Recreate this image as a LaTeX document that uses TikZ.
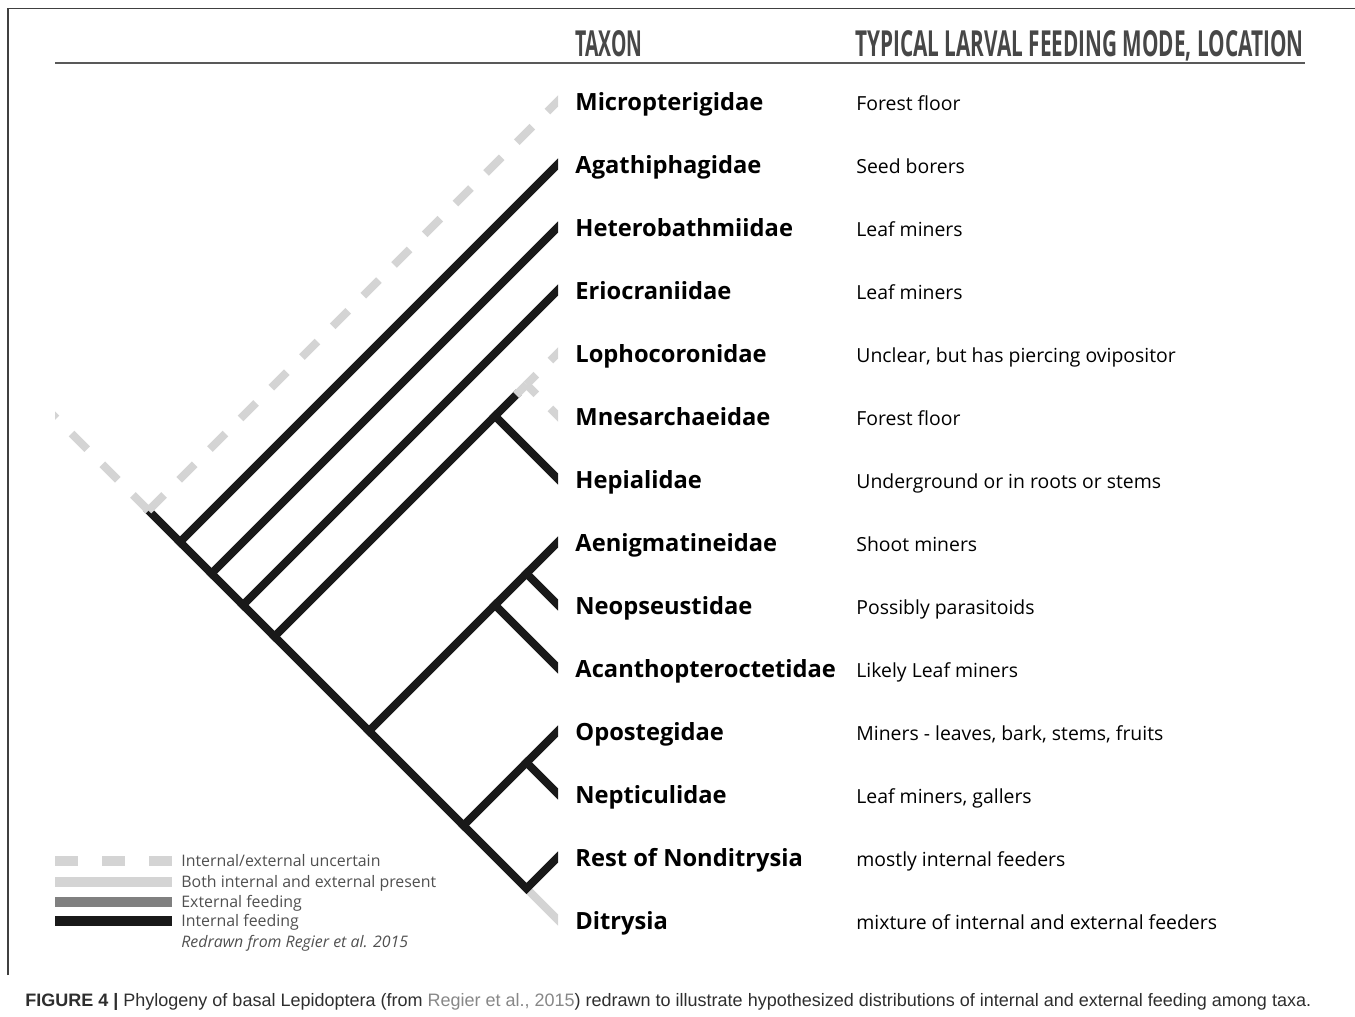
\documentclass[tikz,border=0pt]{standalone}
\usepackage{fontspec}
\setmainfont{Open Sans}
\newfontfamily\capfont{Liberation Sans}
\usepackage{graphicx}
\definecolor{uncgray}{RGB}{212,212,212}
\definecolor{extgray}{RGB}{128,128,128}
\definecolor{keygray}{RGB}{80,80,80}
\definecolor{linkgray}{RGB}{135,135,135}
\newcommand{\taxonfont}{\fontsize{11.85}{14}\selectfont\bfseries}
\newcommand{\modefont}{\fontsize{9.7}{12}\selectfont}
\newcommand{\keyfont}{\fontsize{7.95}{9}\selectfont}
\newcommand{\headtext}[2]{\resizebox{#1}{13pt}{\bfseries #2}}
\newcommand{\taxonrow}[4]
{   \coordinate (t#1) at (558,#2);
    \node[taxon] (#1) at (575,{#2+9}) {#3};
    \node[mode] (#1-mode) at (856,{#2+9}) {#4};
}
\tikzset{
  branch/.style={line width=4pt, line cap=rect, miter limit=4},
  internal/.style={branch, black!90},
  uncertain/.style={branch, uncgray, line cap=butt, dash pattern=on 11pt off 10.7pt},
  both/.style={branch, uncgray},
  external/.style={branch, extgray},
  keyline/.style={line width=5pt, line cap=butt},
  taxon/.style={anchor=base west, inner sep=0pt, font=\taxonfont},
  mode/.style={anchor=base west, inner sep=0pt, font=\modefont},
  key/.style={anchor=base west, inner sep=0pt, font=\keyfont, text=keygray},
}

\begin{document}
\begin{tikzpicture}[x=0.5pt, y=-0.5pt]
\useasboundingbox (0,0) rectangle (1355,1017);
  \draw[black!75, line width=0.8pt] (8,975) -- (8,8.5) -- (1355,8.5);

% header
  \node[anchor=base west, inner sep=0pt, text=black!72] (taxonhead) at (575,56) {\headtext{33.5pt}{TAXON}};
  \node[anchor=base west, inner sep=0pt, text=black!72] (modehead) at (855,56) {\headtext{224pt}{TYPICAL LARVAL FEEDING MODE, LOCATION}};
  \draw[black!65, line width=1.2pt] (55,63) -- (1305,63);

% taxa
  \taxonrow{Micro}{101}{Micropterigidae}{Forest floor}
  \taxonrow{Agath}{164}{Agathiphagidae}{Seed borers}
  \taxonrow{Hetero}{227}{Heterobathmiidae}{Leaf miners}
  \taxonrow{Erio}{290}{Eriocraniidae}{Leaf miners}
  \taxonrow{Lopho}{353}{Lophocoronidae}{Unclear, but has piercing ovipositor}
  \taxonrow{Mnes}{416}{Mnesarchaeidae}{Forest floor}
  \taxonrow{Hepi}{479}{Hepialidae}{Underground or in roots or stems}
  \taxonrow{Aenig}{542}{Aenigmatineidae}{Shoot miners}
  \taxonrow{Neops}{605}{Neopseustidae}{Possibly parasitoids}
  \taxonrow{Acan}{668}{Acanthopteroctetidae}{Likely Leaf miners}
  \taxonrow{Opost}{731}{Opostegidae}{Miners - leaves, bark, stems, fruits}
  \taxonrow{Nepti}{794}{Nepticulidae}{Leaf miners, gallers}
  \taxonrow{Rest}{857}{Rest of Nonditrysia}{mostly internal feeders}
  \taxonrow{Ditr}{920}{Ditrysia}{mixture of internal and external feeders}

% junctions
  \coordinate (stem) at (40,402);
  \coordinate (root) at (148.5,510.5);
  \coordinate (jAgath) at (180,542);
  \coordinate (jHetero) at (211.5,573.5);
  \coordinate (jErio) at (243,605);
  \coordinate (jLopho) at (274.5,636.5);
  \coordinate (jHepi) at (495,416);
  \coordinate (lophoEnd) at (516,395);
  \coordinate (jMnes) at (526.5,384.5);
  \coordinate (jAenig) at (369,731);
  \coordinate (jAcan) at (495,605);
  \coordinate (jNeops) at (526.5,573.5);
  \coordinate (jOpost) at (463.5,825.5);
  \coordinate (jNepti) at (526.5,762.5);
  \coordinate (jRest) at (526.5,888.5);

\begin{scope}
  \clip (55,0) rectangle (558,1017);
  \draw[both] (jRest) -- (tDitr);
  \draw[internal] (root) -- (jRest) -- (tRest);
  \draw[internal] (jAgath) -- (tAgath);
  \draw[internal] (jHetero) -- (tHetero);
  \draw[internal] (jErio) -- (tErio);
  \draw[internal] (jLopho) -- (lophoEnd);
  \draw[internal] (jHepi) -- (tHepi);
  \draw[internal] (jAenig) -- (tAenig);
  \draw[internal] (jAcan) -- (tAcan);
  \draw[internal] (jNeops) -- (tNeops);
  \draw[internal] (jOpost) -- (tOpost);
  \draw[internal] (jNepti) -- (tNepti);
  \draw[uncertain] (root) -- (stem);
  \draw[uncertain] (root) -- ([shift={(8,-8)}]tMicro);
  \draw[both, line cap=butt] (lophoEnd) -- (jMnes);
  \draw[uncertain, dash pattern=on 11pt off 10pt on 30pt off 1pt] ([shift={(8,-8)}]tLopho) -- (jMnes);
  \draw[uncertain, dash pattern=on 11pt off 10pt on 30pt off 1pt] ([shift={(8,8)}]tMnes) -- (jMnes);
\end{scope}

% key
  \draw[keyline, uncgray, dash pattern=on 11.5pt off 12pt] (55,861) -- (172,861);
  \draw[keyline, uncgray] (55,882) -- (172,882);
  \draw[keyline, extgray] (55,901.5) -- (172,901.5);
  \draw[keyline, black!90] (55,921) -- (172,921);
  \node[key] (key-unc) at (181,866.5) {Internal/external uncertain};
  \node[key] (key-both) at (181,887) {Both internal and external present};
  \node[key] (key-ext) at (181,907) {External feeding};
  \node[key] (key-int) at (181,926.5) {Internal feeding};
  \node[key] (key-src) at (181,947) {\itshape Redrawn from Regier et al. 2015};

% caption
  \node[anchor=base west, inner sep=0pt, font=\capfont\fontsize{9}{11}\selectfont, text=black!82] (caption) at (25,1006)
    {\textbf{FIGURE 4 |} Phylogeny of basal Lepidoptera (from \textcolor{linkgray}{Regier et al., 2015}) redrawn to illustrate hypothesized distributions of internal and external feeding among taxa.};
\end{tikzpicture}
\end{document}
